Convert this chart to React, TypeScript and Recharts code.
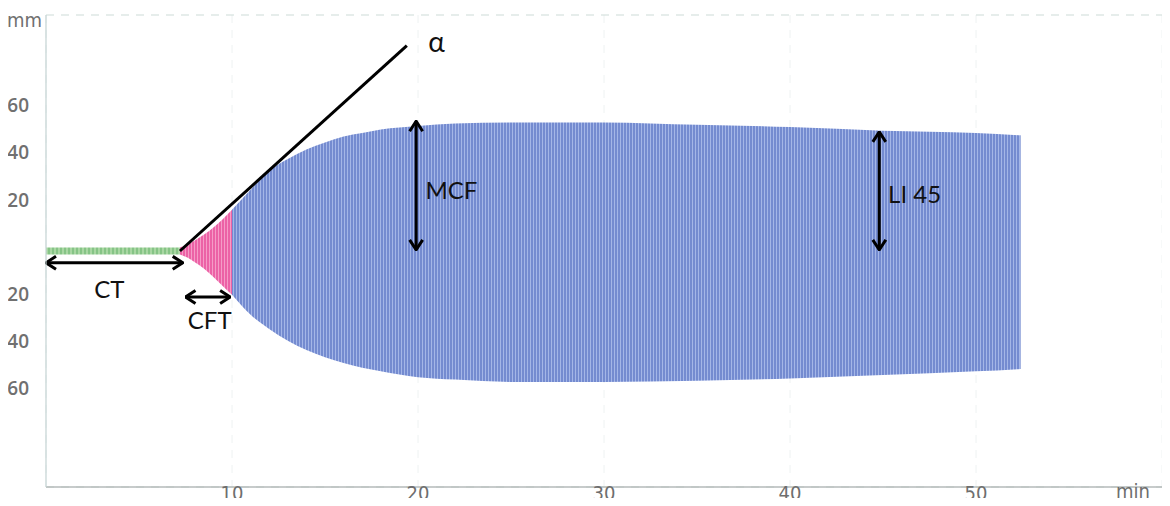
import {
  AreaChart,
  Area,
  XAxis,
  YAxis,
  CartesianGrid,
  ReferenceLine,
  ReferenceDot,
} from "recharts";

// ── Trace data (minutes, amplitude mm) ───────────────────────────────────────

const greenTime = [0, 7.2];
const greenUpper = [1.5, 1.5];
const greenLower = [-1.5, -1.5];

const pinkTime = [7.2, 7.6, 8, 8.5, 9, 9.5, 10];
const pinkUpper = [1.5, 2.8, 4.5, 7, 10, 13.5, 17.5];
const pinkLower = [-1.5, -2.8, -4.8, -7.5, -11, -14.8, -18.5];

const blueTime = [10, 11, 12, 13, 14, 15, 16, 17, 18, 20, 22, 25, 30, 35, 40, 45, 50, 52.4];
const blueUpper = [17.5, 26, 34, 39, 43, 46, 48.5, 50, 51.5, 53, 54, 54.5, 54.5, 53.5, 52.5, 51, 50, 49];
const blueLower = [-18.5, -27, -33, -38, -42, -45, -47.5, -49.5, -51, -53.5, -54.5, -55.5, -55.5, -55, -54, -52.5, -51, -50];

const xTicks = [10, 20, 30, 40, 50];
const yTicks = [-60, -40, -20, 20, 40, 60];
const gridLevels = [-40, 40];

// ── Annotations (chart units) ────────────────────────────────────────────────

const alphaLine = { x1: 7.2, y1: 0, x2: 19.4, y2: 87 };

const arrows = [
  { name: "CT", x1: 0, y1: -5, x2: 7.35, y2: -5 },
  { name: "CFT", x1: 7.5, y1: -19.5, x2: 9.9, y2: -19.5 },
  { name: "MCF", x1: 19.9, y1: 55, x2: 19.9, y2: 0.5 },
  { name: "LI 45", x1: 44.8, y1: 50.5, x2: 44.8, y2: 0.5 },
];

const notes = [
  { text: "CT", x: 3.4, y: -16 },
  { text: "CFT", x: 8.8, y: -29 },
  { text: "MCF", x: 21.8, y: 26 },
  { text: "LI 45", x: 46.7, y: 24.5 },
  { text: "α", x: 21.0, y: 89 },
];

// build the table recharts needs
function buildRows() {
  const times = Array.from(new Set([...greenTime, ...pinkTime, ...blueTime])).sort((a, b) => a - b);
  return times.map(t => {
    const g = greenTime.indexOf(t);
    const p = pinkTime.indexOf(t);
    const b = blueTime.indexOf(t);
    return {
      t,
      green: g >= 0 ? [greenLower[g], greenUpper[g]] : undefined,
      pink: p >= 0 ? [pinkLower[p], pinkUpper[p]] : undefined,
      blue: b >= 0 ? [blueLower[b], blueUpper[b]] : undefined,
    };
  });
}

const rows = buildRows();

const narrow = '"Liberation Sans Narrow", "DejaVu Sans Condensed", "Open Sans", sans-serif';
const noteFont = 'Lato, "Open Sans", sans-serif';

export default function App() {
  return (
    <div style={{ margin: -8, width: 1170, height: 506, background: "#fff", fontFamily: noteFont }}>
      <AreaChart
        width={1170}
        height={506}
        data={rows}
        margin={{ top: 15, right: 8, left: 0, bottom: 0 }}
      >
        <defs>
          <pattern id="blueStripe" width="3" height="8" patternUnits="userSpaceOnUse">
            <rect width="3" height="8" fill="#748bd0" />
            <rect x="2" width="1" height="8" fill="#a4b6e7" />
          </pattern>
          <pattern id="pinkStripe" width="3" height="8" patternUnits="userSpaceOnUse">
            <rect width="3" height="8" fill="#ec62a6" />
            <rect x="2" width="1" height="8" fill="#f59cc7" />
          </pattern>
          <pattern id="greenStripe" width="4" height="3" patternUnits="userSpaceOnUse">
            <rect width="4" height="3" fill="#86c486" />
            <rect x="2" width="2" height="3" fill="#a9d7a3" />
          </pattern>
          <marker
            id="arrowHead"
            viewBox="0 0 12 16"
            refX="11"
            refY="8"
            markerWidth="12"
            markerHeight="16"
            markerUnits="userSpaceOnUse"
            orient="auto-start-reverse"
          >
            <path d="M1,1.5 L11,8 L1,14.5" fill="none" stroke="#000" strokeWidth="3" />
          </marker>
        </defs>

        {/* faint minute grid */}
        <CartesianGrid
          yAxisId="grid"
          vertical
          horizontal={false}
          stroke="#eef2f2"
          strokeDasharray="8 7"
        />
        {/* +/-40 mm guide lines */}
        <CartesianGrid
          yAxisId="grid"
          vertical={false}
          horizontal
          stroke="#cddcd8"
          strokeDasharray="8 7"
          strokeWidth={1.2}
        />

        <XAxis
          type="number"
          dataKey="t"
          domain={[0, 60]}
          ticks={xTicks}
          tickLine={false}
          tickSize={0}
          tickMargin={0}
          axisLine={{ stroke: "#b5baba", strokeWidth: 1.5 }}
          height={19}
          tick={{ fontSize: 20, fill: "#6e6e6e", fontFamily: narrow, dy: -1 }}
          label={{
            content: ({ viewBox }: any) => (
              <text
                x={viewBox.x + viewBox.width - 12}
                y={viewBox.y + 11}
                textAnchor="end"
                fontSize={20}
                fill="#6e6e6e"
                fontFamily={narrow}
              >
                min
              </text>
            ),
          }}
        />
        <YAxis
          domain={[-100, 100]}
          ticks={yTicks}
          tickFormatter={(v: number) => String(Math.abs(v))}
          tickLine={false}
          tickSize={0}
          tickMargin={17}
          width={46}
          axisLine={{ stroke: "#c4d3d3", strokeWidth: 1.2 }}
          tick={{ fontSize: 19, fill: "#707070", fontFamily: '"Open Sans", sans-serif', fontWeight: 600, dy: -4 }}
          label={{
            content: ({ viewBox }: any) => (
              <text
                x={viewBox.x + 7}
                y={viewBox.y + 12}
                fontSize={20}
                fill="#707070"
                fontFamily={narrow}
              >
                mm
              </text>
            ),
          }}
        />
        <YAxis yAxisId="grid" hide domain={[-100, 100]} ticks={gridLevels} />

        <Area
          type="monotone"
          dataKey="green"
          stroke="none"
          fill="url(#greenStripe)"
          fillOpacity={1}
          isAnimationActive={false}
        />
        <Area
          type="monotone"
          dataKey="pink"
          stroke="none"
          fill="url(#pinkStripe)"
          fillOpacity={1}
          isAnimationActive={false}
        />
        <Area
          type="monotone"
          dataKey="blue"
          stroke="none"
          fill="url(#blueStripe)"
          fillOpacity={1}
          isAnimationActive={false}
        />

        <ReferenceLine
          segment={[
            { x: alphaLine.x1, y: alphaLine.y1 },
            { x: alphaLine.x2, y: alphaLine.y2 },
          ]}
          stroke="#000"
          strokeWidth={3}
        />

        {arrows.map(a => (
          <ReferenceLine
            key={a.name}
            segment={[
              { x: a.x1, y: a.y1 },
              { x: a.x2, y: a.y2 },
            ]}
            shape={(p: any) => (
              <line
                x1={p.x1}
                y1={p.y1}
                x2={p.x2}
                y2={p.y2}
                stroke="#000"
                strokeWidth={3}
                markerStart="url(#arrowHead)"
                markerEnd="url(#arrowHead)"
              />
            )}
          />
        ))}

        {notes.map(n => (
          <ReferenceDot
            key={n.text}
            x={n.x}
            y={n.y}
            r={0}
            shape={(p: any) => (
              <text
                x={p.cx}
                y={p.cy}
                textAnchor="middle"
                dominantBaseline="central"
                fontSize={n.text === "α" ? 28 : 24}
                fill="#111"
                fontFamily={noteFont}
              >
                {n.text}
              </text>
            )}
          />
        ))}
      </AreaChart>
    </div>
  );
}
